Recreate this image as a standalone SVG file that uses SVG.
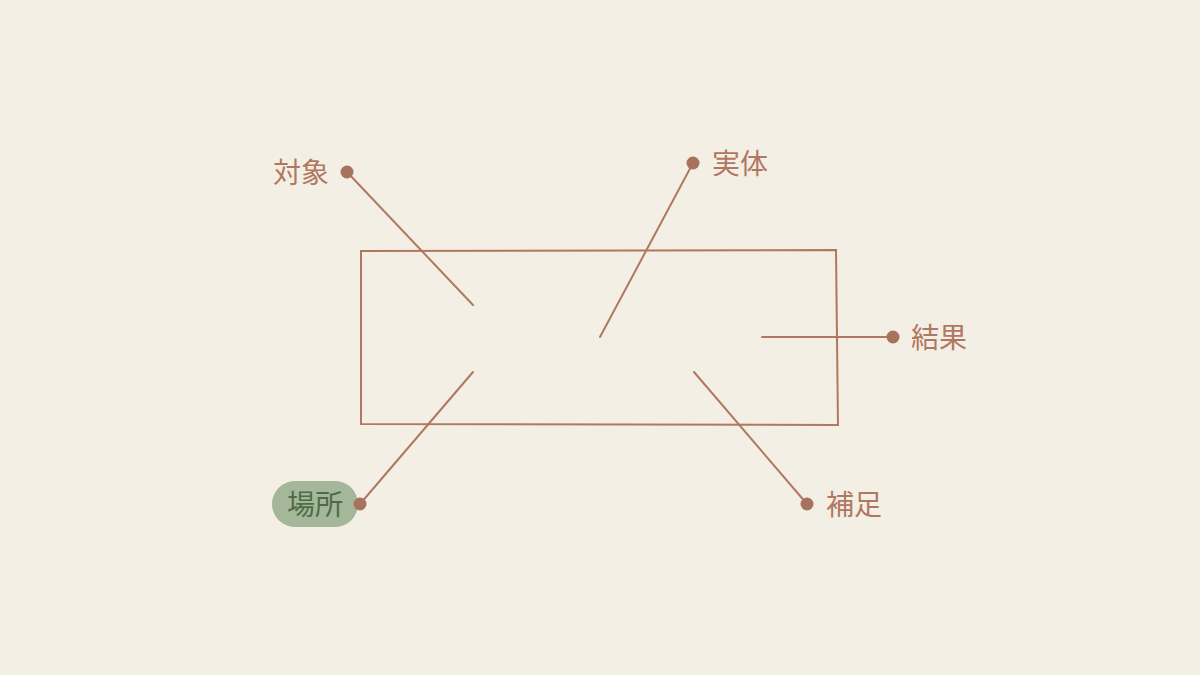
<svg xmlns="http://www.w3.org/2000/svg" width="1200" height="675" viewBox="0 0 1200 675">
<style>
.ln{stroke:#b07861;stroke-width:2;fill:none;stroke-linecap:round}
.dot{fill:#a9725c}
.lbl{font-family:"Liberation Sans","Noto Sans CJK JP",sans-serif;font-size:28px;fill:#b07861;dominant-baseline:central}
</style>
<rect width="1200" height="675" fill="#f3efe5"/>
<g id="frame">
<path class="ln" d="M361,251 L836,250 L838,425 L361,424 Z"/>
</g>
<g id="connectors">
<line class="ln" x1="473" y1="305" x2="347" y2="172"/>
<line class="ln" x1="600" y1="337" x2="693" y2="163"/>
<line class="ln" x1="762" y1="337" x2="893" y2="337"/>
<line class="ln" x1="694" y1="372" x2="807" y2="504"/>
<line class="ln" x1="473" y1="372" x2="360" y2="504"/>
</g>
<g id="node-taisho">
<circle class="dot" cx="347" cy="172" r="6.5"/>
<text class="lbl" x="329" y="173" text-anchor="end">対象</text>
</g>
<g id="node-jittai">
<circle class="dot" cx="693" cy="163" r="6.5"/>
<text class="lbl" x="712" y="164">実体</text>
</g>
<g id="node-kekka">
<circle class="dot" cx="893" cy="337" r="6.5"/>
<text class="lbl" x="911" y="338">結果</text>
</g>
<g id="node-hosoku">
<circle class="dot" cx="807" cy="504" r="6.5"/>
<text class="lbl" x="826" y="505">補足</text>
</g>
<g id="node-basho">
<rect x="272" y="481" width="86" height="46" rx="23" fill="#a5b799"/>
<circle class="dot" cx="360" cy="504" r="6.5"/>
<text class="lbl" x="315" y="505" text-anchor="middle" style="fill:#4d6b47">場所</text>
</g>
</svg>
